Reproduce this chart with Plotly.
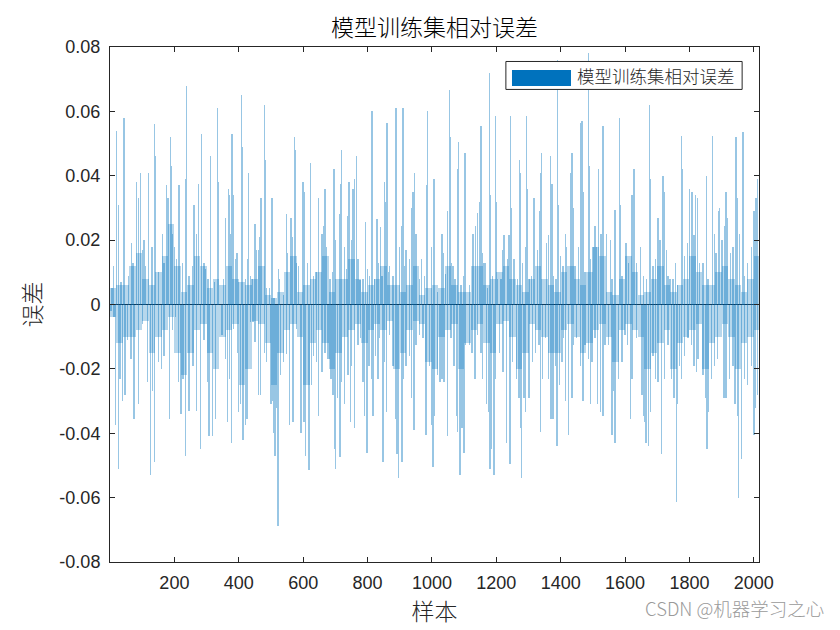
import plotly.graph_objects as go

# ---------------- data ----------------
title_text = "模型训练集相对误差"
x_label = "样本"
y_label = "误差"
legend_label = "模型训练集相对误差"
n_samples = 2015

x_ticks = [200, 400, 600, 800, 1000, 1200, 1400, 1600, 1800, 2000]
y_ticks = [-0.08, -0.06, -0.04, -0.02, 0, 0.02, 0.04, 0.06, 0.08]
y_tick_text = ["-0.08", "-0.06", "-0.04", "-0.02", "0", "0.02", "0.04", "0.06", "0.08"]

# individual visible positive bars (sample index, relative error)
pos_x = [6, 10, 20, 26, 34, 41, 44, 57, 67, 72, 82, 88, 95, 101, 106, 111, 119, 130, 139, 142,
         150, 163, 168, 175, 180, 187, 189, 194, 200, 207, 214, 225, 235, 237, 245, 256, 261, 268,
         274, 284, 292, 297, 305, 313, 324, 333, 338,
         353, 358, 368, 372, 376, 379, 382, 389, 394, 399, 408, 410, 420, 427, 430, 436, 441, 451,
         456, 461, 465, 467, 469, 479, 482, 487, 496, 503, 510, 523, 527, 539, 549, 551, 562, 565,
         573, 575, 577, 580, 585, 599, 603, 613, 622, 632, 640, 647, 658, 663, 668, 673,
         683, 693, 696, 700, 714, 717, 719, 729, 734, 739, 742, 750, 755, 760, 765, 770, 776, 786,
         793, 799, 807, 814, 816, 822, 829, 834, 841, 845, 853, 855, 860, 863, 869, 879, 888, 890,
         900, 905, 910, 915, 920, 931, 936, 941, 946, 951, 962, 967, 977, 984, 987, 998, 1006,
         1017, 1031, 1035, 1043, 1048, 1054, 1056, 1059, 1066, 1072, 1079, 1083, 1090, 1100, 1103,
         1105, 1116, 1128, 1136, 1141, 1147, 1152, 1155, 1162, 1167, 1172, 1178, 1180, 1188, 1198,
         1200, 1203, 1214, 1221, 1224, 1234, 1240, 1245, 1247, 1255, 1265, 1273, 1276, 1281, 1291,
         1294, 1297, 1302, 1310, 1317, 1327, 1335, 1338, 1341,
         1355, 1362, 1368, 1373, 1378, 1386, 1390, 1392, 1399, 1407, 1414, 1419, 1430, 1435, 1438,
         1445, 1455, 1461, 1466, 1469, 1476, 1486, 1488, 1492, 1500, 1507, 1512, 1517, 1525, 1531,
         1533, 1543, 1554, 1559, 1569, 1582, 1584, 1590, 1603, 1610, 1621, 1628, 1636, 1647, 1657,
         1667, 1675, 1678,
         1687, 1694, 1702, 1708, 1718, 1723, 1728, 1733, 1739, 1749, 1756, 1762, 1775, 1777, 1785,
         1793, 1801, 1808, 1814, 1818, 1824, 1832, 1842, 1852, 1857, 1871, 1878, 1883, 1890, 1894,
         1901, 1909, 1914, 1919, 1928, 1935, 1945, 1948, 1956, 1966, 1971, 1981, 1992, 2000, 2007,
         2012]
pos_y = [.005, .012, .054, .031, .007, .040, .058, .009, .019, .013, .038, .033, .041, .017, .020,
         .012, .041, .018, .056, .046, .010, .022, .013, .037, .033, .052, .043, .022, .018, .014,
         .037, .013, .039, .068, .009, .012, .031, .022, .0375, .053, .013, .011, .008, .046, .007,
         .061, .038,
         .008, .027, .036, .034, .022, .053, .034, .014, .016, .007, .065, .049, .008, .014, .041,
         .009, .008, .025, .017, .017, .021, .028, .033, .062, .045, .005, .005, .033, .002, .011,
         .008, .003, .028, .016, .027, .021, .052, .048, .0415, .013, .012, .038, .035, .013, .044,
         .009, .010, .033, .022, .0245, .036, .018,
         .008, .010, .042, .020, .028, .0375, .048, .018, .011, .0275, .038, .020, .036, .039, .046,
         .014, .0075, .008, .0255, .011, .009, .060, .040, .008, .0265, .013, .024, .009, .038,
         .032, .0565, .010, .012, .009, .061, .048, .018, .0245, .061, .012, .017, .014, .030,
         .035, .041, .022, .008, .014, .009, .037, .060, .018, .039,
         .004, .022, .016, .0095, .029, .0665, .052, .013, .012, .008, .042, .0505, .006, .009,
         .047, .031, .006, .022, .0245, .0285, .032, .0555, .016, .013, .013, .005, .072, .034,
         .009, .0585, .032, .008, .008, .017, .0215, .014, .0215, .0585, .030, .014, .008, .045,
         .041, .013, .018, .0585, .036, .008, .009, .033, .017, .029, .041, .047,
         .019, .0215, .046, .0375, .009, .008, .076, .031, .015, .012, .022, .018, .041, .047,
         .030, .012, .018, .0565, .057, .035, .010, .078, .043, .014, .018, .0245, .018, .042,
         .022, .0555, .031, .022, .020, .008, .0295, .058, .031, .009, .019, .013, .034, .042,
         .013, .018, .009, .008, .062, .039,
         .012, .014, .027, .020, .040, .035, .017, .009, .008, .008, .013, .006, .0525, .042,
         .015, .019, .036, .035, .0215, .034, .033, .013, .013, .040, .008, .0525, .022, .016,
         .029, .030, .020, .0245, .035, .027, .016, .018, .052, .033, .022, .0535, .009, .013,
         .018, .029, .033, .039]

# individual visible negative bars
neg_x = [3, 13, 18, 26, 31, 39, 47, 54, 65, 75, 88, 101, 116, 125, 132, 138, 150, 160, 168, 184,
         194, 204, 212, 220, 227, 235, 245, 258, 268, 282, 292, 302, 307, 318, 328,
         348, 358, 365, 371, 377, 384, 396, 400, 405, 413, 415, 420, 425, 427, 436, 444, 451, 461,
         467, 480, 487, 500, 506, 510, 513, 516, 522, 529, 539, 549, 557, 568, 580, 593, 603, 608,
         618, 625, 632, 642, 647, 658, 668, 675,
         680, 686, 693, 698, 701, 706, 714, 719, 729, 739, 748, 750, 760, 770, 779, 786, 791, 798,
         805, 812, 817, 824, 832, 838, 848, 853, 858, 869, 879, 887, 892, 896, 907, 910, 920, 931,
         936, 944, 951, 962, 972, 982, 993, 998, 1003, 1008,
         1017, 1025, 1031, 1038, 1048, 1059, 1069, 1076, 1079, 1087, 1093, 1100, 1105, 1116, 1124,
         1134, 1141, 1152, 1157, 1169, 1176, 1180, 1184, 1193, 1198, 1209, 1221, 1231, 1242, 1250,
         1262, 1271, 1276, 1279, 1286, 1291, 1302, 1312, 1322, 1333, 1338, 1343,
         1352, 1362, 1370, 1376, 1383, 1388, 1397, 1404, 1409, 1414, 1424, 1435, 1440, 1450, 1461,
         1469, 1476, 1486, 1492, 1497, 1507, 1514, 1523, 1531, 1538, 1548, 1559, 1564, 1569, 1579,
         1590, 1600, 1607, 1616, 1621, 1636, 1652, 1659, 1662, 1665, 1672, 1678,
         1687, 1694, 1702, 1713, 1723, 1733, 1744, 1752, 1759, 1762, 1770, 1775, 1785, 1795, 1806,
         1814, 1821, 1826, 1842, 1849, 1855, 1859, 1868, 1878, 1888, 1907, 1914, 1925, 1935, 1942,
         1950, 1952, 1961, 1971, 1981, 1992, 2000, 2004, 2012]
neg_y = [-.002, -.004, -.0375, -.051, -.023, -.030, -.028, -.011, -.017, -.0355, -.031, -.006,
         -.024, -.053, -.027, -.049, -.018, -.020, -.016, -.0355, -.008, -.004, -.024, -.034,
         -.023, -.047, -.033, -.019, -.033, -.045, -.011, -.024, -.041, -.041, -.0355,
         -.0095, -.017, -.0365, -.023, -.043, -.0075, -.015, -.0335, -.031, -.042, -.030, -.0375,
         -.0355, -.031, -.0055, -.0055, -.0115, -.028, -.028, -.015, -.018, -.031, -.030, -.040,
         -.047, -.032, -.0687, -.022, -.018, -.0155, -.0375, -.0365, -.0075, -.040, -.0365, -.047,
         -.0515, -.025, -.016, -.018, -.0345, -.021, -.015, -.017,
         -.017, -.023, -.028, -.045, -.051, -.029, -.0475, -.024, -.031, -.022, -.0365, -.019,
         -.0385, -.0125, -.0105, -.024, -.0345, -.046, -.019, -.023, -.0345, -.016, -.023, -.0105,
         -.049, -.018, -.0335, -.0095, -.019, -.0355, -.0465, -.054, -.049, -.023, -.019, -.016,
         -.029, -.039, -.0125, -.0095, -.0105, -.0405, -.019, -.0375, -.0505, -.0345,
         -.022, -.024, -.023, -.024, -.041, -.0105, -.019, -.0345, -.0395, -.053, -.0385, -.046,
         -.0125, -.0125, -.015, -.023, -.0095, -.015, -.023, -.031, -.0335, -.051, -.045, -.053,
         -.023, -.015, -.021, -.043, -.0495, -.018, -.023, -.029, -.0385, -.054, -.029, -.0335,
         -.029, -.018, -.015, -.0125, -.0395, -.023,
         -.0105, -.023, -.0355, -.0355, -.019, -.044, -.025, -.018, -.0105, -.030, -.0405, -.029,
         -.0125, -.0105, -.019, -.030, -.0125, -.017, -.031, -.018, -.0105, -.031, -.0335, -.0345,
         -.0125, -.0125, -.0405, -.027, -.043, -.023, -.018, -.0095, -.0125, -.0355, -.023,
         -.0105, -.028, -.0345, -.0365, -.043, -.044, -.0335,
         -.016, -.023, -.024, -.0465, -.023, -.0125, -.023, -.029, -.0615, -.031, -.019, -.023,
         -.016, -.0105, -.0125, -.019, -.021, -.017, -.022, -.029, -.045, -.0335, -.023, -.019,
         -.017, -.029, -.029, -.023, -.019, -.031, -.0345, -.060, -.048, -.023, -.025, -.019,
         -.0405, -.032, -.028]

# dense "core" level of the bars in each block of 20 samples
core_start = [0, 20, 40, 60, 80, 100, 120, 140, 160, 180, 200, 220, 240, 260, 280, 300, 320,
              340, 360, 380, 400, 420, 440, 460, 480, 500, 520, 540, 560, 580, 600, 620, 640, 660,
              680, 700, 720, 740, 760, 780, 800, 820, 840, 860, 880, 900, 920, 940, 960, 980, 1000,
              1020, 1040, 1060, 1080, 1100, 1120, 1140, 1160, 1180, 1200, 1220, 1240, 1260, 1280,
              1300, 1320,
              1340, 1360, 1380, 1400, 1420, 1440, 1460, 1480, 1500, 1520, 1540, 1560, 1580, 1600,
              1620, 1640, 1660,
              1680, 1700, 1720, 1740, 1760, 1780, 1800, 1820, 1840, 1860, 1880, 1900, 1920, 1940,
              1960, 1980, 2000]
core_pos = [.005, .006, .006, .012, .016, .008, .006, .010, .015, .025, .012, .004, .006, .015, .012, .005, .008,
            .006, .012, .008, .007, .006, .008, .012, .003, .002, .004, .010, .015, .004, .006, .008, .010, .015,
            .004, .008, .008, .014, .008, .004, .006, .008, .012, .006, .006, .004, .006, .012, .003, .005, .006,
            .005, .012, .006, .004, .004, .012, .012, .006, .008, .010, .012, .008, .006, .004, .008, .012,
            .008, .006, .004, .010, .012, .008, .006, .010, .018, .015, .004, .003, .008, .015, .010, .003, .004,
            .008, .012, .006, .004, .006, .008, .015, .010, .006, .006, .010, .012, .008, .006, .004, .008, .015]
core_neg = [-.004, -.012, -.010, -.010, -.008, -.005, -.015, -.010, -.008, -.004, -.015, -.022, -.015, -.008, -.006, -.015, -.020,
            -.010, -.008, -.006, -.025, -.020, -.005, -.006, -.012, -.025, -.015, -.008, -.006, -.010, -.025, -.012, -.008, -.012,
            -.020, -.015, -.010, -.008, -.006, -.012, -.008, -.006, -.008, -.005, -.020, -.015, -.008, -.005, -.006, -.018, -.020,
            -.010, -.008, -.006, -.020, -.012, -.008, -.006, -.012, -.015, -.006, -.005, -.010, -.020, -.015, -.006, -.008,
            -.010, -.015, -.015, -.008, -.006, -.010, -.015, -.012, -.008, -.006, -.010, -.018, -.008, -.006, -.008, -.010, -.020,
            -.015, -.012, -.008, -.020, -.012, -.010, -.008, -.006, -.020, -.012, -.010, -.006, -.010, -.020, -.012, -.010, -.008]

# ---------------- figure ----------------
bar_color = "rgb(0,114,189)"
axis_color = "#262626"
font_cjk = "Noto Sans CJK SC, Noto Sans CJK JP, sans-serif"
font_num = "Liberation Sans, Arial, sans-serif"

core_centers = [s + 10 for s in core_start]

fig = go.Figure()
fig.add_trace(go.Bar(x=core_centers, y=core_pos, width=20, marker=dict(color=bar_color, line=dict(width=0)),
                     opacity=0.28, showlegend=False, hoverinfo="skip"))
fig.add_trace(go.Bar(x=core_centers, y=core_neg, width=20, marker=dict(color=bar_color, line=dict(width=0)),
                     opacity=0.28, showlegend=False, hoverinfo="skip"))
fig.add_trace(go.Bar(x=pos_x, y=pos_y, width=1.2, marker=dict(color=bar_color, line=dict(width=0)),
                     opacity=0.4, showlegend=False, name=legend_label))
fig.add_trace(go.Bar(x=neg_x, y=neg_y, width=1.2, marker=dict(color=bar_color, line=dict(width=0)),
                     opacity=0.4, showlegend=False, name=legend_label))

fig.update_layout(
    width=840, height=630,
    margin=dict(l=110, r=81, t=47, b=68, pad=0),
    paper_bgcolor="white", plot_bgcolor="white",
    barmode="overlay", bargap=0,
    title=dict(text=title_text, x=(110 + 759) / 2 / 840, xanchor="center", y=1 - 28 / 630, yanchor="middle",
               font=dict(family=font_cjk, size=23, color="#000000", weight=300)),
)

fig.update_xaxes(
    range=[0, n_samples + 1], tickvals=x_ticks, ticktext=[str(v) for v in x_ticks],
    ticks="inside", ticklen=5, tickwidth=1, tickcolor=axis_color,
    showline=True, linecolor=axis_color, linewidth=1, mirror="ticks",
    showgrid=False, zeroline=False, ticklabelstandoff=4,
    tickfont=dict(family=font_num, size=18, color=axis_color),
    title=dict(text=x_label, font=dict(family=font_cjk, size=23, color=axis_color, weight=300), standoff=8),
)
fig.update_yaxes(
    range=[-0.08, 0.08], tickvals=y_ticks, ticktext=y_tick_text,
    ticks="inside", ticklen=5, tickwidth=1, tickcolor=axis_color,
    showline=True, linecolor=axis_color, linewidth=1, mirror="ticks",
    showgrid=False, zeroline=True, zerolinecolor="#1a2a3a", zerolinewidth=1.2,
    ticklabelstandoff=5,
    tickfont=dict(family=font_num, size=18, color=axis_color),
    title=dict(text=y_label, font=dict(family=font_cjk, size=23, color=axis_color, weight=300), standoff=11),
)

# legend drawn as a MATLAB-style box with a wide patch
fig.add_shape(type="rect", xref="paper", yref="paper", x0=0.610, x1=0.974, y0=0.9176, y1=0.9719,
              line=dict(color=axis_color, width=1), fillcolor="white", layer="above")
fig.add_shape(type="rect", xref="paper", yref="paper", x0=0.6194, x1=0.7103, y0=0.9243, y1=0.9554,
              line=dict(width=0), fillcolor=bar_color, layer="above")
fig.add_annotation(xref="paper", yref="paper", x=0.7165, y=0.9447, xanchor="left", yanchor="middle",
                   text=legend_label, showarrow=False,
                   font=dict(family=font_cjk, size=17.5, color=axis_color, weight=300))

# watermark
fig.add_annotation(xref="paper", yref="paper", x=(826 - 110) / 649, y=-(609 - 562.5) / 515.5,
                   xanchor="right", yanchor="middle", text="CSDN @机器学习之心", showarrow=False,
                   font=dict(family=font_cjk, size=18.5, color="#9a9a9a", weight=300))

fig.write_html("out.html")
